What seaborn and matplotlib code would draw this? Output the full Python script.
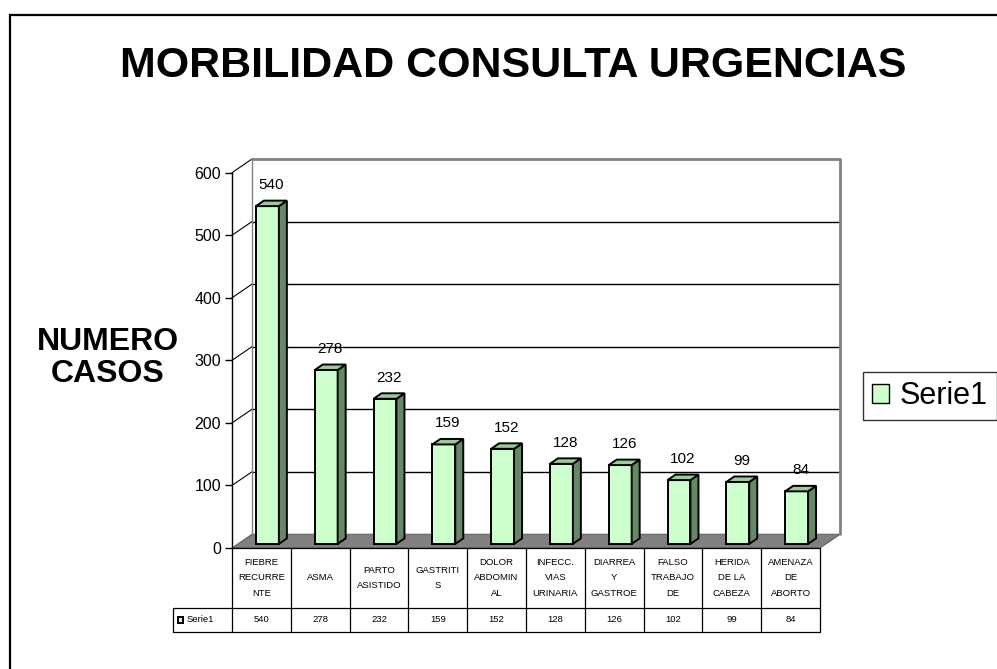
import matplotlib
matplotlib.use("Agg")
import matplotlib.pyplot as plt
import matplotlib.patches as mpatches
import seaborn as sns
import pandas as pd
import numpy as np

# data
categories = ["FIEBRE RECURRENTE", "ASMA", "PARTO ASISTIDO", "GASTRITIS",
              "DOLOR ABDOMINAL", "INFECC. VIAS URINARIA", "DIARREA Y GASTROE",
              "FALSO TRABAJO DE", "HERIDA DE LA CABEZA", "AMENAZA DE ABORTO"]
table_labels = ["FIEBRE\nRECURRE\nNTE", "ASMA", "PARTO\nASISTIDO", "GASTRITI\nS",
                "DOLOR\nABDOMIN\nAL", "INFECC.\nVIAS\nURINARIA", "DIARREA\nY\nGASTROE",
                "FALSO\nTRABAJO\nDE", "HERIDA\nDE LA\nCABEZA", "AMENAZA\nDE\nABORTO"]
values = [540, 278, 232, 159, 152, 128, 126, 102, 99, 84]
y_ticks = [0, 100, 200, 300, 400, 500, 600]
series_name = "Serie1"

FACE = "#CCFFCC"
SIDE = "#668866"
TOP = "#99CC99"

sns.set_style("white")
plt.rcParams['font.family'] = ['Liberation Sans', 'DejaVu Sans']
plt.rcParams['text.color'] = 'black'
plt.rcParams['ytick.color'] = 'black'
plt.rcParams['axes.labelcolor'] = 'black'

W, H = 997, 669
fig = plt.figure(figsize=(W / 100, H / 100), dpi=100)
ax_left, ax_right, ax_bot, ax_top = 232, 820, 548, 172.7
ax = fig.add_axes([ax_left / W, 1 - ax_bot / H, (ax_right - ax_left) / W, (ax_bot - ax_top) / H])

df = pd.DataFrame({"cat": categories, "val": values})
sns.barplot(data=df, x="cat", y="val", color=FACE, width=0.39, saturation=1,
            edgecolor="black", linewidth=1.4, ax=ax, zorder=5)
ax.set_xlim(-0.5, 9.5)
ax.set_ylim(0, 600)

# pixel -> data scale for the 3d depth
px_x = (ax_right - ax_left) / 10.0
px_y = (ax_bot - ax_top) / 600.0
DX = 20 / px_x
DY = 13.7 / px_y

# floor
floor = mpatches.Polygon([(-0.5, 0), (9.5, 0), (9.5 + DX, DY), (-0.5 + DX, DY)],
                         closed=True, facecolor="#808080", edgecolor="#606060",
                         lw=0.8, clip_on=False, zorder=1)
ax.add_patch(floor)

# back wall, gridlines and left wall diagonals
for t in y_ticks[1:-1]:
    ax.plot([-0.5 + DX, 9.5 + DX], [t + DY, t + DY], color="black", lw=1,
            clip_on=False, zorder=2)
for t in y_ticks[1:]:
    ax.plot([-0.5, -0.5 + DX], [t, t + DY], color="black", lw=0.8,
            clip_on=False, zorder=2)
ax.plot([-0.5 + DX, 9.5 + DX, 9.5 + DX], [600 + DY, 600 + DY, DY],
        color="#808080", lw=2, clip_on=False, zorder=2)
ax.plot([-0.5 + DX, -0.5 + DX], [DY, 600 + DY], color="#808080", lw=1,
        clip_on=False, zorder=2)

# give the bars some depth
for p, v in zip(ax.patches, values):
    p.set_x(p.get_x() + 0.3 * DX)
    p.set_y(0.3 * DY)
    x0 = p.get_x()
    x1 = x0 + p.get_width()
    y0 = p.get_y()
    y1 = y0 + p.get_height()
    ddx, ddy = 0.4 * DX, 0.4 * DY
    side = mpatches.Polygon([(x1, y0), (x1 + ddx, y0 + ddy), (x1 + ddx, y1 + ddy), (x1, y1)],
                            closed=True, facecolor=SIDE, edgecolor="black", lw=1.4,
                            clip_on=False, zorder=5)
    top = mpatches.Polygon([(x0, y1), (x0 + ddx, y1 + ddy), (x1 + ddx, y1 + ddy), (x1, y1)],
                           closed=True, facecolor=TOP, edgecolor="black", lw=1.4,
                           clip_on=False, zorder=5)
    ax.add_patch(side)
    ax.add_patch(top)
    ax.text((x0 + x1) / 2 + 0.2 * DX, y1 + 34, str(v), ha="center", va="center",
            fontsize=11, zorder=6, clip_on=False)

# axes styling
for s in ["top", "right", "bottom"]:
    ax.spines[s].set_visible(False)
ax.spines["left"].set_color("black")
ax.spines["left"].set_linewidth(1)
ax.set_yticks(y_ticks)
ax.set_yticklabels([str(t) for t in y_ticks], fontsize=11.5)
ax.tick_params(axis="y", left=True, length=5, width=1, color="black", pad=3)
ax.tick_params(axis="x", bottom=False, labelbottom=False)
ax.set_xlabel("")
ax.set_ylabel("")
ax.set_facecolor("none")

# data table under the chart
row1 = 60 / px_y
row2 = 24 / px_y
kw = dict(color="black", lw=0.9, clip_on=False, zorder=3)
ax.plot([-0.5, 9.5], [0, 0], **kw)
ax.plot([-1.5, 9.5], [-row1, -row1], **kw)
ax.plot([-1.5, 9.5], [-row1 - row2, -row1 - row2], **kw)
ax.plot([-1.5, -1.5], [-row1, -row1 - row2], **kw)
for k in range(11):
    ax.plot([-0.5 + k, -0.5 + k], [0, -row1 - row2], **kw)
for i, (lab, v) in enumerate(zip(table_labels, values)):
    ax.text(i, -row1 / 2, lab, ha="center", va="center", fontsize=6.8,
            linespacing=1.95, clip_on=False)
    ax.text(i, -row1 - row2 / 2, str(v), ha="center", va="center", fontsize=6.8,
            clip_on=False)
ax.add_patch(mpatches.Rectangle((-1.42, -row1 - row2 / 2 - 5), 0.09, 10,
                                facecolor=FACE, edgecolor="black", lw=1.4, clip_on=False))
ax.text(-1.27, -row1 - row2 / 2, series_name, ha="left", va="center", fontsize=6.8,
        clip_on=False)

# title, axis label, legend, outer frame
fig.text(513 / W, 1 - 66 / H, "MORBILIDAD CONSULTA URGENCIAS", ha="center", va="center",
         fontsize=31, fontweight="bold")
fig.text(107.5 / W, 1 - 358 / H, "NUMERO\nCASOS", ha="center", va="center",
         fontsize=23, fontweight="bold", linespacing=1.05)

handle = mpatches.Patch(facecolor=FACE, edgecolor="black", lw=1, label=series_name)
fig.legend(handles=[handle], loc="upper left", bbox_to_anchor=(863 / W, 1 - 372 / H),
           fontsize=22, frameon=True, fancybox=False, edgecolor="black",
           handlelength=0.55, handleheight=0.55, handletextpad=0.35,
           borderpad=0.3, borderaxespad=0)

fig.patches.append(mpatches.Rectangle((10 / W, -0.1), 1.2, 1 - 15 / H + 0.1,
                                      transform=fig.transFigure, fill=False,
                                      edgecolor="black", lw=1.6))

fig.savefig("out.png", dpi=100)
